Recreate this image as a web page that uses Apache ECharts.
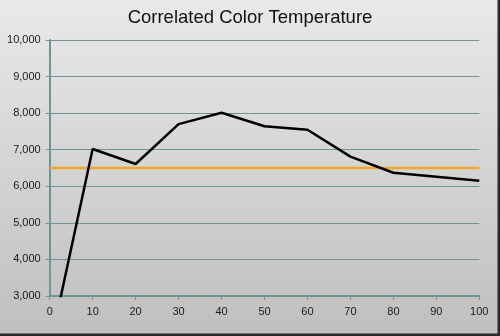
<!DOCTYPE html>
<html>
<head>
<meta charset="utf-8">
<script src="https://cdn.jsdelivr.net/npm/echarts@6/dist/echarts.min.js"></script>
<style>
  html, body { margin: 0; padding: 0; }
  #chart { width: 500px; height: 336px; }
</style>
</head>
<body>
<div id="chart"></div>
<script>
// Measured colour temperature (K) per stimulus level (%)
const levels = [0, 10, 20, 30, 40, 50, 60, 70, 80, 90, 100];
const cctValues = [1580, 7020, 6610, 7700, 8010, 7640, 7545, 6810, 6370, 6260, 6150];
// D65 reference target
const targetLevels = [0, 100];
const targetValue = 6500;
const yTicks = { min: 3000, max: 10000, step: 1000 };
const xTicks = { min: 0, max: 100, step: 10 };

const axisColor = '#6c9696';
const chart = echarts.init(document.getElementById('chart'), null, { renderer: 'canvas' });

chart.setOption({
  animation: false,
  backgroundColor: {
    type: 'linear', x: 0, y: 0, x2: 0, y2: 1,
    colorStops: [{ offset: 0, color: '#e9e9e9' }, { offset: 1, color: '#bfbfbf' }]
  },
  title: {
    text: 'Correlated Color Temperature',
    left: 'center', top: 3,
    textStyle: { fontFamily: 'Liberation Sans', fontSize: 18.5, fontWeight: 'normal', color: '#111' }
  },
  graphic: [
    { type: 'rect', right: 0, top: 0, shape: { width: 2.5, height: 336 }, style: { fill: '#2a2a2a' } },
    { type: 'rect', left: 0, bottom: 0, shape: { width: 500, height: 2.5 }, style: { fill: '#2a2a2a' } }
  ],
  grid: { left: 49.7, right: 20.7, top: 40, bottom: 40 },
  xAxis: {
    type: 'value', min: xTicks.min, max: xTicks.max, interval: xTicks.step,
    axisLine: { lineStyle: { color: axisColor, width: 2 } },
    axisTick: { show: true, length: 4, lineStyle: { color: axisColor, width: 1 } },
    axisLabel: { color: '#1a1a1a', fontFamily: 'Liberation Sans', fontSize: 11, margin: 10 },
    splitLine: { show: false }
  },
  yAxis: {
    type: 'value', min: yTicks.min, max: yTicks.max, interval: yTicks.step,
    axisLine: { show: true, lineStyle: { color: axisColor, width: 2 } },
    axisTick: { show: true, length: 4, lineStyle: { color: axisColor, width: 1 } },
    axisLabel: {
      color: '#1a1a1a', fontFamily: 'Liberation Sans', fontSize: 11, margin: 9,
      formatter: v => v.toLocaleString('en-US')
    },
    splitLine: { show: true, lineStyle: { color: axisColor, width: 1 } }
  },
  series: [
    {
      type: 'line',
      data: targetLevels.map(x => [x, targetValue]),
      symbol: 'none',
      lineStyle: { color: '#f2a52a', width: 2.5 },
      z: 2
    },
    {
      type: 'line',
      data: levels.map((x, i) => [x, cctValues[i]]),
      symbol: 'none',
      clip: true,
      lineStyle: { color: '#000', width: 2.5 },
      z: 3
    }
  ]
});
</script>
</body>
</html>
